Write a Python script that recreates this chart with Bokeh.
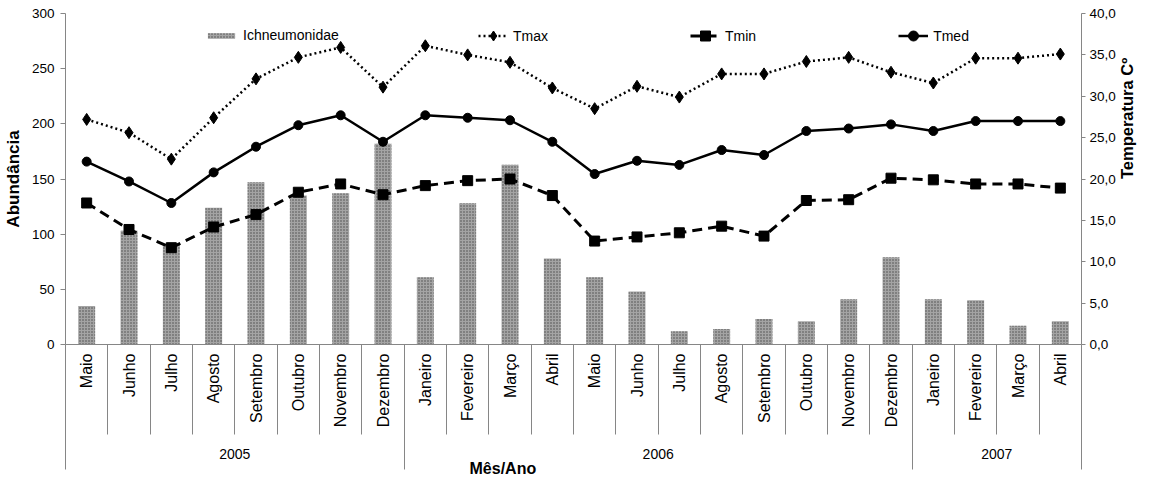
import math
from bokeh.plotting import figure
from bokeh.models import Range1d, LinearAxis, FixedTicker, Legend, LegendItem, Title
from bokeh.embed import file_html
from bokeh.resources import INLINE

# ---------------- data ----------------
months = ["Maio", "Junho", "Julho", "Agosto", "Setembro", "Outubro", "Novembro", "Dezembro",
          "Janeiro", "Fevereiro", "Março", "Abril", "Maio", "Junho", "Julho", "Agosto",
          "Setembro", "Outubro", "Novembro", "Dezembro",
          "Janeiro", "Fevereiro", "Março", "Abril"]
years = ["2005", "2006", "2007"]
year_counts = [8, 12, 4]

abundance = [35, 103, 91, 124, 147, 135, 137, 182, 61, 128, 163, 78,
             61, 48, 12, 14, 23, 21, 41, 79, 41, 40, 17, 21]
tmax = [27.2, 25.6, 22.4, 27.4, 32.1, 34.7, 35.9, 31.1, 36.1, 35.0, 34.1, 31.0,
        28.5, 31.2, 29.9, 32.7, 32.7, 34.2, 34.7, 32.9, 31.6, 34.6, 34.6, 35.1]
tmin = [17.1, 13.9, 11.7, 14.2, 15.7, 18.4, 19.4, 18.1, 19.2, 19.8, 20.0, 18.0,
        12.5, 13.0, 13.5, 14.3, 13.1, 17.4, 17.5, 20.1, 19.9, 19.4, 19.4, 18.9]
tmed = [22.1, 19.7, 17.1, 20.8, 23.9, 26.5, 27.7, 24.5, 27.7, 27.4, 27.1, 24.5,
        20.6, 22.2, 21.7, 23.5, 22.9, 25.8, 26.1, 26.6, 25.8, 27.0, 27.0, 27.0]

abund_ticks = [0, 50, 100, 150, 200, 250, 300]
temp_ticks = [0, 5, 10, 15, 20, 25, 30, 35, 40]

# ---------------- derived positions ----------------
n = len(months)
xc = [i + 0.5 for i in range(n)]
bounds = list(range(n + 1))
year_edges = [0]
for c in year_counts:
    year_edges.append(year_edges[-1] + c)
year_centers = [(year_edges[i] + year_edges[i + 1]) / 2 for i in range(len(years))]

FONT = "Liberation Sans"
GREY = "#868686"
FRAME_H = 324

p = figure(width=1147, height=476, output_backend="svg", toolbar_location=None,
           x_range=Range1d(0, n), y_range=Range1d(abund_ticks[0], abund_ticks[-1]),
           x_axis_location=None, y_axis_location=None,
           min_border_left=58, min_border_right=50, min_border_top=13, min_border_bottom=120)
p.extra_y_ranges = {"temp": Range1d(temp_ticks[0], temp_ticks[-1])}
p.grid.visible = False
p.outline_line_color = None
p.background_fill_color = "white"
p.border_fill_color = "white"


def style_axis(ax, size):
    ax.axis_line_color = GREY
    ax.major_tick_line_color = GREY
    ax.minor_tick_line_color = None
    ax.major_tick_in = 0
    ax.minor_tick_in = 0
    ax.major_label_text_font = FONT
    ax.major_label_text_font_size = size
    ax.major_label_text_color = "black"
    ax.axis_label_text_font = FONT
    ax.axis_label_text_font_style = "bold"
    ax.axis_label_text_font_size = "17px"
    ax.axis_label_text_color = "black"


# left axis
yl = LinearAxis(ticker=FixedTicker(ticks=abund_ticks), axis_label="Abundância")
style_axis(yl, "13.5px")
yl.major_tick_out = 5
yl.major_label_standoff = 6
yl.axis_label_standoff = 6
p.add_layout(yl, "left")

# right axis
yr = LinearAxis(y_range_name="temp", ticker=FixedTicker(ticks=temp_ticks),
                major_label_overrides={t: f"{t:.1f}".replace(".", ",") for t in temp_ticks},
                axis_label="Temperatura Cº")
style_axis(yr, "13.5px")
yr.major_tick_out = 4
yr.major_label_standoff = 4
yr.axis_label_standoff = 8
yr.axis_label_text_font_size = "16.5px"
if "axis_label_orientation" in yr.properties():
    yr.axis_label_orientation = math.pi / 2
p.add_layout(yr, "right")

# month axis: long minor ticks are the category separators
xm = LinearAxis(ticker=FixedTicker(ticks=xc, minor_ticks=bounds),
                major_label_overrides={x: m for x, m in zip(xc, months)},
                major_label_orientation=math.pi / 2)
style_axis(xm, "16px")
xm.major_tick_line_color = None
xm.major_tick_out = 0
xm.minor_tick_line_color = GREY
xm.minor_tick_out = 90
xm.major_label_standoff = -81
p.add_layout(xm, "below")

# year axis
xy = LinearAxis(ticker=FixedTicker(ticks=year_centers, minor_ticks=year_edges),
                major_label_overrides={x: y for x, y in zip(year_centers, years)})
style_axis(xy, "14px")
xy.axis_line_color = None
xy.major_tick_line_color = None
xy.major_tick_out = 0
xy.minor_tick_line_color = GREY
xy.minor_tick_out = 39
xy.major_label_standoff = -21
p.add_layout(xy, "below")

# x axis title, left of centre as in the reference
p.add_layout(Title(text="Mês/Ano", align="left", offset=404, standoff=-4, vertical_align="top",
                   text_font=FONT, text_font_style="bold", text_font_size="16px",
                   text_color="black"), "below")

# bars
bars = p.vbar(x=xc, top=abundance, bottom=0, width=0.4, fill_color="#a4a4a4", line_color=None,
              hatch_pattern="dot", hatch_color="#4a4a4a", hatch_scale=3, hatch_weight=1.3)

# temperature lines
l_max = p.line(xc, tmax, y_range_name="temp", line_color="black", line_width=2.5, line_dash="2 3")
s_max = p.scatter(xc, tmax, y_range_name="temp", marker="diamond", size=12, color="black")
l_min = p.line(xc, tmin, y_range_name="temp", line_color="black", line_width=3, line_dash="10 6")
s_min = p.scatter(xc, tmin, y_range_name="temp", marker="square", size=10, color="black")
l_med = p.line(xc, tmed, y_range_name="temp", line_color="black", line_width=2.5)
s_med = p.scatter(xc, tmed, y_range_name="temp", marker="circle", size=9, color="black")

common = dict(orientation="horizontal", label_standoff=5, padding=0, margin=0,
              border_line_color=None, background_fill_alpha=0, label_text_color="black",
              label_text_font=FONT, label_text_font_size="14px")

leg_bar = Legend(items=[LegendItem(label="Ichneumonidae", renderers=[bars])],
                 location=(139, FRAME_H - 23), glyph_width=34, glyph_height=7,
                 label_height=16, **common)
leg_temp = Legend(items=[LegendItem(label="Tmax", renderers=[l_max, s_max]),
                         LegendItem(label="Tmin", renderers=[l_min, s_min]),
                         LegendItem(label="Tmed", renderers=[l_med, s_med])],
                  location=(413, FRAME_H - 28), spacing=142,
                  glyph_width=30, glyph_height=25, **common)
p.add_layout(leg_bar)
p.add_layout(leg_temp)

open("out.html", "w").write(file_html(p, INLINE))
